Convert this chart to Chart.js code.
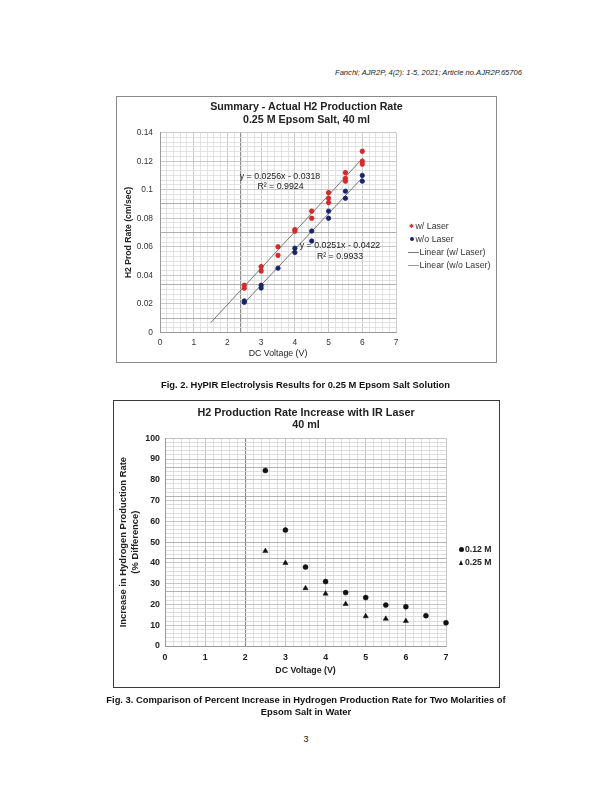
<!DOCTYPE html>
<html><head><meta charset="utf-8">
<script src="https://cdn.jsdelivr.net/npm/chart.js@4.4.1/dist/chart.umd.min.js"></script>
<style>
body{margin:0;width:612px;height:792px;position:relative;background:#fff;font-family:"Liberation Sans",Arial,sans-serif;color:#111;overflow:hidden}
.a{position:absolute;white-space:nowrap;line-height:1}
.c{transform:translate(-50%,-50%)}
.l{transform:translate(0,-50%)}
canvas{position:absolute}
.box{position:absolute;box-sizing:border-box;pointer-events:none}
.b{font-weight:bold}
</style></head><body>
<div class="a" style="right:90px;top:69px;font-size:7.6px;font-style:italic;color:#222">Fanchi; AJR2P, 4(2): 1-5, 2021; Article no.AJR2P.65706</div>

<canvas id="c1" width="381" height="267" style="left:116px;top:96px"></canvas>
<div class="box" style="left:116px;top:96px;width:381px;height:267px;border:1.5px solid #8a8a8a"></div>
<div class="a c b" style="left:306.5px;top:106px;font-size:10.7px;color:#222">Summary - Actual H2 Production Rate</div>
<div class="a c b" style="left:306.5px;top:119px;font-size:10.7px;color:#222">0.25 M Epsom Salt, 40 ml</div>
<div class="a c" style="left:280px;top:176px;font-size:8.8px;color:#222">y = 0.0256x - 0.0318</div>
<div class="a c" style="left:280.5px;top:185.5px;font-size:8.8px;color:#222">R² = 0.9924</div>
<div class="a c" style="left:340px;top:245px;font-size:8.8px;color:#222">y = 0.0251x - 0.0422</div>
<div class="a c" style="left:340px;top:255.5px;font-size:8.8px;color:#222">R² = 0.9933</div>
<div id="leg1"></div>

<div class="a c b" style="left:305.5px;top:385px;font-size:9.4px">Fig. 2. HyPIR Electrolysis Results for 0.25 M Epsom Salt Solution</div>

<canvas id="c2" width="387" height="288" style="left:113px;top:400px"></canvas>
<div class="box" style="left:113px;top:400px;width:387px;height:288px;border:1.5px solid #3a3a3a"></div>
<div class="a c b" style="left:306px;top:411.7px;font-size:10.8px;color:#222">H2 Production Rate Increase with IR Laser</div>
<div class="a c b" style="left:306px;top:424.3px;font-size:10.8px;color:#222">40 ml</div>
<div id="leg2"></div>

<div class="a c b" style="left:306px;top:700px;font-size:9.4px">Fig. 3. Comparison of Percent Increase in Hydrogen Production Rate for Two Molarities of</div>
<div class="a c b" style="left:306px;top:711.5px;font-size:9.4px">Epsom Salt in Water</div>
<div class="a c" style="left:306px;top:739px;font-size:9px">3</div>

<script>
// ---------- Chart 1 data (Fig. 2) ----------
const laserX   = [2.5, 2.5, 3, 3, 3.5, 3.5, 4, 4, 4.5, 4.5, 5, 5, 5, 5.5, 5.5, 5.5, 6, 6, 6];
const laserY   = [0.033, 0.031, 0.046, 0.043, 0.060, 0.054, 0.072, 0.071, 0.085, 0.080, 0.098, 0.094, 0.091, 0.112, 0.108, 0.106, 0.127, 0.120, 0.118];
const noLaserX = [2.5, 2.5, 3, 3, 3.5, 4, 4, 4.5, 4.5, 5, 5, 5.5, 5.5, 6, 6];
const noLaserY = [0.022, 0.021, 0.033, 0.031, 0.045, 0.059, 0.056, 0.071, 0.064, 0.085, 0.080, 0.099, 0.094, 0.110, 0.106];
const trendLaserX   = [1.5, 6];
const trendLaserY   = [0.0066, 0.1218];
const trendNoLaserX = [2.5, 6];
const trendNoLaserY = [0.0206, 0.1084];
const xTickLabels1 = ['0','1','2','3','4','5','6','7'];
const yTickLabels1 = ['0','0.02','0.04','0.06','0.08','0.1','0.12','0.14'];

// ---------- Chart 2 data (Fig. 3) ----------
const voltsA = [2.5, 3, 3.5, 4, 4.5, 5, 5.5, 6, 6.5, 7];
const m012   = [84.5, 55.8, 38.0, 31.0, 25.7, 23.3, 19.7, 18.9, 14.6, 11.2];
const voltsB = [2.5, 3, 3.5, 4, 4.5, 5, 5.5, 6];
const m025   = [45.7, 40.0, 27.8, 25.2, 20.2, 14.3, 13.1, 12.0];
const xTickLabels2 = ['0','1','2','3','4','5','6','7'];
const yTickLabels2 = ['0','10','20','30','40','50','60','70','80','90','100'];

const FAM = '"Liberation Sans", Arial, sans-serif';
const pts = (xs, ys) => xs.map((x, i) => ({x: x, y: ys[i]}));
const near = (a, b, e) => Math.abs(a - b) < (e || 1e-6);
function gridTicks(min, max, n) { const t = []; for (let i = 0; i <= n; i++) t.push({value: min + (max - min) * i / n}); return t; }

// ---------- Chart 1 ----------
const red = '#d42a2a', navy = '#18256b';
new Chart(document.getElementById('c1'), {
  type: 'scatter',
  data: { datasets: [
    {label: 'w/ Laser', data: pts(laserX, laserY), pointStyle: 'star', pointRadius: 2.6, borderColor: red, backgroundColor: red, borderWidth: 1.6, clip: false},
    {label: 'w/o Laser', data: pts(noLaserX, noLaserY), pointStyle: 'circle', pointRadius: 2.2, borderColor: navy, backgroundColor: navy, borderWidth: 0.8, clip: false},
    {label: 'Linear (w/ Laser)', data: pts(trendLaserX, trendLaserY), showLine: true, borderColor: '#555', borderWidth: 0.8, pointRadius: 0},
    {label: 'Linear (w/o Laser)', data: pts(trendNoLaserX, trendNoLaserY), showLine: true, borderColor: '#555', borderWidth: 0.8, pointRadius: 0}
  ]},
  options: {
    responsive: false, animation: false, events: [],
    layout: {padding: {left: 0, right: 101, top: 36.7, bottom: 0}},
    plugins: {legend: {display: false}, tooltip: {enabled: false}},
    scales: {
      x: {
        type: 'linear', min: 0, max: 7,
        afterBuildTicks: s => { s.ticks = gridTicks(0, 7, 35); },
        afterFit: s => { s.height = 30.7; },
        ticks: {autoSkip: false, maxRotation: 0, padding: 5, color: '#333', font: {size: 8.4, family: FAM},
          callback: v => { const k = Math.round(v); return near(v, k, 1e-6) ? xTickLabels1[k] : ''; }},
        grid: {drawTicks: false,
          color: c => { const v = c.tick.value; if (near(v, 2.4, 1e-3)) return '#8e8e8e'; return near(v, Math.round(v), 1e-6) ? '#bdbdbd' : '#dcdcdc'; },
          lineWidth: c => near(c.tick.value, 2.4, 1e-3) ? 1.2 : 0.8},
        border: {color: '#999', width: 1},
        title: {display: true, text: 'DC Voltage (V)', color: '#222', font: {size: 8.8, family: FAM}, padding: {top: 0, bottom: 4}}
      },
      y: {
        type: 'linear', min: 0, max: 0.14,
        afterBuildTicks: s => { s.ticks = gridTicks(0, 0.14, 42); },
        afterFit: s => { s.width = 44; },
        ticks: {autoSkip: false, padding: 7, color: '#333', font: {size: 8.4, family: FAM},
          callback: v => { const k = Math.round(v / 0.02); return near(v, k * 0.02, 1e-7) ? yTickLabels1[k] : ''; }},
        grid: {drawTicks: false,
          color: c => { const v = c.tick.value;
            if ([0.09, 0.07, 0.10/3, 0.01].some(d => near(v, d, 1e-5))) return '#9a9a9a';
            return near(v, Math.round(v / 0.02) * 0.02, 1e-7) ? '#bdbdbd' : '#dcdcdc'; },
          lineWidth: 0.8},
        border: {color: '#999', width: 1},
        title: {display: true, text: 'H2 Prod Rate (cm/sec)', color: '#222', font: {size: 8.6, weight: 'bold', family: FAM}, padding: {top: 7, bottom: 0}}
      }
    }
  }
});

// legend 1 (HTML)
document.getElementById('leg1').innerHTML =
  '<div class="a c" style="left:411.5px;top:225.5px;font-size:6px;font-weight:bold;color:' + red + ';font-family:DejaVu Sans">✱</div>' +
  '<div class="a l" style="left:415.5px;top:226px;font-size:8.8px;color:#333">w/ Laser</div>' +
  '<div class="a" style="left:409.5px;top:237px;width:4px;height:4px;border-radius:50%;background:' + navy + '"></div>' +
  '<div class="a l" style="left:415.5px;top:239px;font-size:8.8px;color:#333">w/o Laser</div>' +
  '<div class="a" style="left:408px;top:251.5px;width:11px;height:1px;background:#777"></div>' +
  '<div class="a l" style="left:419.5px;top:252px;font-size:8.8px;color:#333">Linear (w/ Laser)</div>' +
  '<div class="a" style="left:408px;top:264.5px;width:11px;height:1px;background:#999"></div>' +
  '<div class="a l" style="left:419.5px;top:265px;font-size:8.8px;color:#333">Linear (w/o Laser)</div>';

// ---------- Chart 2 ----------
new Chart(document.getElementById('c2'), {
  type: 'scatter',
  data: { datasets: [
    {label: '0.12 M', data: pts(voltsA, m012), pointStyle: 'circle', pointRadius: 2.5, borderColor: '#111', backgroundColor: '#111', borderWidth: 0.5, clip: false},
    {label: '0.25 M', data: pts(voltsB, m025), pointStyle: 'triangle', pointRadius: 3, borderColor: '#111', backgroundColor: '#111', borderWidth: 0.5, clip: false}
  ]},
  options: {
    responsive: false, animation: false, events: [],
    layout: {padding: {left: 0, right: 54, top: 38.3, bottom: 0}},
    plugins: {legend: {display: false}, tooltip: {enabled: false}},
    scales: {
      x: {
        type: 'linear', min: 0, max: 7,
        afterBuildTicks: s => { s.ticks = gridTicks(0, 7, 35); },
        afterFit: s => { s.height = 42; },
        ticks: {autoSkip: false, maxRotation: 0, padding: 6, color: '#222', font: {size: 8.8, weight: 'bold', family: FAM},
          callback: v => { const k = Math.round(v); return near(v, k, 1e-6) ? xTickLabels2[k] : ''; }},
        grid: {drawTicks: false,
          color: c => { const v = c.tick.value; if (near(v, 2, 1e-6)) return '#888'; return near(v, Math.round(v), 1e-6) ? '#b8b8b8' : '#d6d6d6'; },
          lineWidth: c => near(c.tick.value, 2, 1e-6) ? 1.1 : 0.8},
        border: {color: '#999', width: 1},
        title: {display: true, text: 'DC Voltage (V)', color: '#222', font: {size: 8.8, weight: 'bold', family: FAM}, padding: {top: 0, bottom: 12}}
      },
      y: {
        type: 'linear', min: 0, max: 100,
        afterBuildTicks: s => { s.ticks = gridTicks(0, 100, 50); },
        afterFit: s => { s.width = 52; },
        ticks: {autoSkip: false, padding: 5, color: '#222', font: {size: 8.8, weight: 'bold', family: FAM},
          callback: v => { const k = Math.round(v / 10); return near(v, k * 10, 1e-6) ? yTickLabels2[k] : ''; }},
        grid: {drawTicks: false,
          color: c => { const v = c.tick.value;
            if ([86, 72, 50, 42, 26].some(d => near(v, d, 1e-6))) return '#a0a0a0';
            return near(v, Math.round(v / 10) * 10, 1e-6) ? '#b8b8b8' : '#d6d6d6'; },
          lineWidth: 0.8},
        border: {color: '#999', width: 1},
        title: {display: true, text: ['Increase in Hydrogen Production Rate', '(% Difference)'], color: '#222',
          font: {size: 9.4, weight: 'bold', family: FAM, lineHeight: 1.25}, padding: {top: 5, bottom: 0}}
      }
    }
  }
});

// legend 2 (HTML)
document.getElementById('leg2').innerHTML =
  '<div class="a" style="left:458.5px;top:546.5px;width:5px;height:5px;border-radius:50%;background:#111"></div>' +
  '<div class="a l" style="left:465px;top:549px;font-size:8.7px;font-weight:bold;color:#222">0.12 M</div>' +
  '<div class="a" style="left:458.5px;top:559.5px;width:0;height:0;border-left:2.8px solid transparent;border-right:2.8px solid transparent;border-bottom:5px solid #111"></div>' +
  '<div class="a l" style="left:465px;top:562px;font-size:8.7px;font-weight:bold;color:#222">0.25 M</div>';
</script>
</body></html>
